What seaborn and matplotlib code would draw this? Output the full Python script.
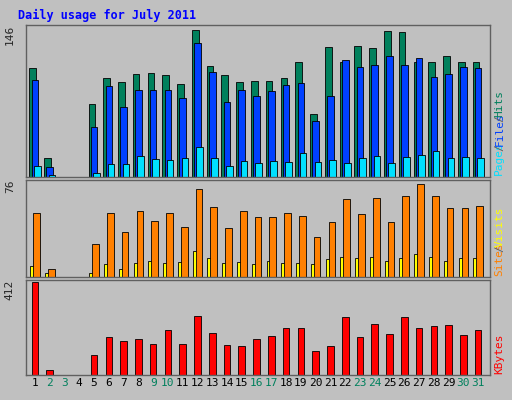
import matplotlib
matplotlib.use("Agg")
import matplotlib.pyplot as plt
import seaborn as sns
import numpy as np

days = list(range(1, 32))
hits = [107,19,0,0,72,97,93,101,102,100,91,144,109,100,93,94,94,97,113,62,127,113,128,126,143,142,113,113,119,113,113]
files = [95,10,0,0,49,89,69,85,85,85,77,131,103,73,85,79,84,90,92,55,79,115,108,110,119,110,117,98,101,108,107]
pages = [11,2,0,0,4,13,13,21,18,17,19,29,19,11,16,14,16,15,24,15,17,14,19,21,14,20,22,25,19,20,19]
visits = [51,6,0,0,26,51,36,53,45,51,40,70,56,39,53,48,48,51,49,32,44,62,50,63,44,65,74,65,55,55,57]
sites = [9,3,0,0,3,10,6,11,13,11,12,21,15,11,12,10,13,11,11,10,14,16,15,16,13,15,18,16,13,15,15]
kbytes = [412,23,0,0,87,169,151,160,137,201,137,261,188,133,128,160,174,206,206,105,128,256,169,224,183,256,210,215,220,178,197]
weekend = {2,3,9,10,16,17,23,24,30,31}

sns.set_style("white")
bg = "#C0C0C0"
fig = plt.figure(figsize=(5.12, 4.0), dpi=100, facecolor=bg)
mono = "DejaVu Sans Mono"
CHAR_PX = 4.9

def panel(rect, series, ymax, label_parts):
    ax = fig.add_axes(rect)
    ax.set_facecolor(bg)
    for vals, off, col in series:
        x = np.array(days) + off
        sns.barplot(x=x, y=vals, native_scale=True, width=0.45, color=col,
                    saturation=1, edgecolor="black", linewidth=0.6, ax=ax)
    ax.set_xlim(0.4, 31.8)
    ax.set_ylim(0, ymax * 1.02)
    ax.set_xticks([]); ax.set_yticks([])
    ax.set_xlabel(""); ax.set_ylabel("")
    for s in ax.spines.values():
        s.set_color("#606060"); s.set_linewidth(1)
    ax.text(-0.035, 1.0, str(ymax), transform=ax.transAxes, rotation=90,
            ha="center", va="top", fontsize=8, family=mono)
    step = CHAR_PX / (rect[3] * 400)
    y = 0.01
    for t, c in label_parts:
        ax.text(1.02, y, t, transform=ax.transAxes, rotation=90, ha="center",
                va="bottom", fontsize=8, family=mono, color=c)
        y += len(t) * step
    return ax

panel([0.051, 0.5575, 0.906, 0.38],
      [(hits, -0.15, "#00805C"), (files, 0.0, "#0040FF"), (pages, 0.15, "#00E0FF")],
      146, [("Pages", "#00E0FF"), ("/", "#606060"), ("Files", "#0040FF"), ("/", "#606060"), ("Hits", "#00805C")])
panel([0.051, 0.3075, 0.906, 0.2425],
      [(sites, -0.1, "#FFFF00"), (visits, 0.1, "#FF8000")],
      76, [("Sites", "#FF8000"), ("/", "#606060"), ("Visits", "#FFFF00")])
ax3 = panel([0.051, 0.0625, 0.906, 0.2375],
      [(kbytes, 0.0, "#FF0000")], 412, [("KBytes", "#FF0000")])

for d in days:
    ax3.text(d, -0.03, str(d), transform=ax3.get_xaxis_transform(), ha="center",
             va="top", fontsize=8, family=mono,
             color="#00805C" if d in weekend else "black")

fig.text(0.035, 0.962, "Daily usage for July 2011", color="#0000FF",
         fontsize=8.5, fontweight="bold", family=mono, ha="left", va="center")
fig.savefig("out.png", dpi=100, facecolor=bg)
